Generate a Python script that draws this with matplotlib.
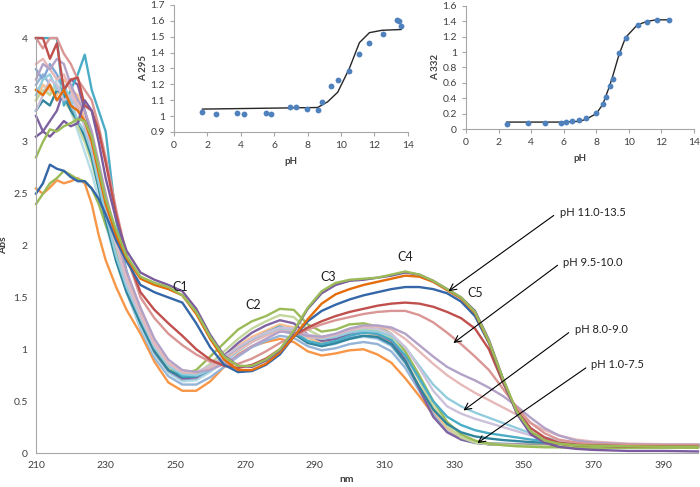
import matplotlib.pyplot as plt
from matplotlib.ticker import FormatStrFormatter, MultipleLocator

plt.rcParams["font.family"] = ["Lato", "DejaVu Sans"]

# wavelength grid (nm) shared by all spectra
wl = [210, 212, 214, 216, 218, 220, 222, 224, 226, 228, 230, 233, 236,
      240, 244, 248, 252, 256, 260, 264, 268, 272, 276, 280, 284, 288,
      292, 296, 300, 304, 308, 312, 316, 320, 324, 328, 332, 336, 340,
      344, 348, 352, 356, 360, 365, 370, 380, 390, 400]

# pH 1.0-7.5
low_green = [2.40, 2.50, 2.60, 2.65, 2.72, 2.68, 2.64, 2.62, 2.55, 2.40, 2.20, 1.95, 1.70,
             1.30, 1.02, 0.84, 0.76, 0.80, 0.93, 1.06, 1.19, 1.27, 1.32, 1.39, 1.38, 1.24,
             1.17, 1.19, 1.24, 1.25, 1.22, 1.15, 0.98, 0.75, 0.50, 0.30, 0.18, 0.12, 0.09,
             0.075, 0.065, 0.06, 0.055, 0.055, 0.05, 0.05, 0.05, 0.05, 0.05]
low_lightgreen = [3.40, 3.50, 3.45, 3.55, 3.40, 3.30, 3.15, 3.00, 2.80, 2.55, 2.30, 1.95, 1.65,
                  1.30, 1.02, 0.83, 0.74, 0.76, 0.86, 0.98, 1.10, 1.20, 1.27, 1.33, 1.31, 1.19,
                  1.12, 1.13, 1.18, 1.20, 1.18, 1.11, 0.94, 0.70, 0.45, 0.26, 0.15, 0.10, 0.085,
                  0.08, 0.075, 0.07, 0.07, 0.07, 0.07, 0.07, 0.07, 0.07, 0.07]
low_purple = [3.25, 3.10, 3.20, 3.30, 3.50, 3.60, 3.55, 3.30, 3.05, 2.75, 2.45, 2.00, 1.65,
              1.28, 0.98, 0.80, 0.72, 0.73, 0.82, 0.94, 1.06, 1.16, 1.23, 1.28, 1.25, 1.14,
              1.08, 1.10, 1.15, 1.17, 1.15, 1.08, 0.90, 0.62, 0.35, 0.20, 0.13, 0.10, 0.085,
              0.08, 0.08, 0.075, 0.075, 0.075, 0.075, 0.075, 0.075, 0.075, 0.075]
low_orange = [2.55, 2.50, 2.56, 2.63, 2.60, 2.62, 2.65, 2.60, 2.40, 2.10, 1.86, 1.60, 1.38,
              1.15, 0.88, 0.68, 0.60, 0.60, 0.69, 0.83, 0.95, 1.03, 1.07, 1.10, 1.07, 0.98,
              0.94, 0.96, 0.99, 1.00, 0.95, 0.87, 0.72, 0.55, 0.37, 0.22, 0.14, 0.10, 0.085,
              0.08, 0.078, 0.075, 0.075, 0.075, 0.075, 0.075, 0.075, 0.075, 0.075]
low_lightblue = [3.50, 3.55, 3.45, 3.60, 3.50, 3.30, 3.10, 2.90, 2.70, 2.45, 2.20, 1.85, 1.55,
                 1.22, 0.95, 0.77, 0.69, 0.70, 0.78, 0.89, 1.00, 1.09, 1.15, 1.20, 1.17, 1.08,
                 1.03, 1.05, 1.10, 1.12, 1.10, 1.03, 0.86, 0.63, 0.40, 0.23, 0.14, 0.10, 0.09,
                 0.085, 0.08, 0.08, 0.08, 0.08, 0.08, 0.08, 0.08, 0.08, 0.08]
low_paleblue = [3.55, 3.65, 3.55, 3.40, 3.45, 3.35, 3.20, 3.05, 2.85, 2.60, 2.30, 1.90, 1.55,
                1.20, 0.92, 0.74, 0.66, 0.66, 0.73, 0.83, 0.93, 1.02, 1.08, 1.13, 1.11, 1.03,
                0.99, 1.01, 1.05, 1.07, 1.05, 0.98, 0.82, 0.60, 0.38, 0.22, 0.13, 0.095, 0.085,
                0.08, 0.08, 0.08, 0.08, 0.08, 0.08, 0.08, 0.08, 0.08, 0.08]
low_peach = [3.40, 3.55, 3.50, 3.45, 3.60, 3.50, 3.45, 3.20, 2.95, 2.65, 2.35, 1.95, 1.60,
             1.27, 0.98, 0.80, 0.72, 0.73, 0.81, 0.92, 1.03, 1.12, 1.18, 1.24, 1.21, 1.11,
             1.06, 1.09, 1.14, 1.16, 1.14, 1.06, 0.88, 0.64, 0.41, 0.24, 0.15, 0.11, 0.09,
             0.085, 0.08, 0.08, 0.08, 0.08, 0.08, 0.08, 0.08, 0.08, 0.08]
low_blue = [3.70, 3.60, 3.75, 3.65, 3.50, 3.40, 3.35, 3.15, 2.95, 2.65, 2.35, 1.95, 1.60,
            1.25, 0.97, 0.79, 0.71, 0.72, 0.80, 0.91, 1.01, 1.09, 1.14, 1.18, 1.15, 1.07,
            1.03, 1.06, 1.11, 1.13, 1.11, 1.04, 0.87, 0.63, 0.40, 0.24, 0.15, 0.11, 0.095,
            0.09, 0.085, 0.085, 0.085, 0.085, 0.085, 0.085, 0.085, 0.085, 0.085]

# pH 8.0-9.0
mid_lilac = [3.30, 3.45, 3.60, 3.55, 3.40, 3.45, 3.30, 3.15, 2.95, 2.70, 2.40, 2.00, 1.65,
             1.32, 1.04, 0.86, 0.78, 0.78, 0.84, 0.93, 1.02, 1.10, 1.16, 1.21, 1.20, 1.14,
             1.12, 1.14, 1.18, 1.21, 1.20, 1.15, 1.02, 0.82, 0.60, 0.45, 0.38, 0.33, 0.29,
             0.25, 0.21, 0.17, 0.14, 0.12, 0.10, 0.09, 0.085, 0.08, 0.08]
mid_lightpink = [3.75, 3.80, 3.70, 3.60, 3.65, 3.50, 3.35, 3.20, 3.00, 2.75, 2.45, 2.05, 1.70,
                 1.35, 1.06, 0.87, 0.78, 0.77, 0.82, 0.90, 0.99, 1.07, 1.13, 1.18, 1.17, 1.12,
                 1.11, 1.14, 1.19, 1.22, 1.22, 1.19, 1.10, 0.98, 0.86, 0.75, 0.66, 0.58, 0.51,
                 0.44, 0.37, 0.29, 0.22, 0.17, 0.13, 0.11, 0.09, 0.085, 0.085]
mid_lavender = [3.60, 3.75, 3.70, 3.80, 3.75, 3.55, 3.40, 3.30, 3.10, 2.80, 2.50, 2.10, 1.75,
                1.40, 1.10, 0.90, 0.80, 0.78, 0.80, 0.86, 0.94, 1.03, 1.10, 1.17, 1.16, 1.13,
                1.12, 1.15, 1.20, 1.23, 1.23, 1.21, 1.15, 1.04, 0.93, 0.83, 0.76, 0.70, 0.63,
                0.55, 0.45, 0.34, 0.24, 0.17, 0.12, 0.10, 0.085, 0.08, 0.08]
mid_skyblue = [3.45, 3.60, 3.65, 3.50, 3.55, 3.40, 3.20, 3.10, 2.90, 2.60, 2.30, 1.90, 1.60,
               1.30, 1.02, 0.84, 0.76, 0.75, 0.80, 0.88, 0.98, 1.07, 1.14, 1.20, 1.18, 1.12,
               1.10, 1.12, 1.16, 1.18, 1.17, 1.13, 1.02, 0.84, 0.66, 0.53, 0.45, 0.39, 0.34,
               0.29, 0.24, 0.19, 0.15, 0.12, 0.10, 0.09, 0.085, 0.08, 0.08]
mid_teal = [4.00, 4.00, 4.00, 4.00, 3.35, 3.50, 3.65, 3.84, 3.50, 3.30, 3.10, 2.25, 1.75,
            1.35, 1.05, 0.85, 0.74, 0.74, 0.80, 0.90, 1.00, 1.09, 1.16, 1.22, 1.17, 1.08,
            1.05, 1.08, 1.13, 1.16, 1.15, 1.09, 0.94, 0.72, 0.50, 0.35, 0.27, 0.22, 0.19,
            0.17, 0.15, 0.13, 0.115, 0.10, 0.09, 0.085, 0.08, 0.08, 0.08]
mid_darkteal = [3.30, 3.40, 3.35, 3.50, 3.45, 3.30, 3.20, 3.05, 2.85, 2.55, 2.25, 1.85, 1.55,
                1.25, 0.98, 0.80, 0.73, 0.74, 0.81, 0.90, 1.00, 1.09, 1.16, 1.21, 1.15, 1.06,
                1.03, 1.06, 1.10, 1.13, 1.12, 1.05, 0.88, 0.64, 0.42, 0.28, 0.20, 0.16, 0.14,
                0.125, 0.115, 0.105, 0.10, 0.095, 0.09, 0.085, 0.08, 0.08, 0.08]

# pH 9.5-10.0
red = [4.00, 4.00, 3.80, 3.95, 3.50, 3.60, 3.62, 3.35, 3.30, 3.10, 2.80, 2.30, 1.90,
       1.55, 1.38, 1.25, 1.13, 1.00, 0.90, 0.84, 0.82, 0.85, 0.91, 1.00, 1.13, 1.21,
       1.27, 1.32, 1.36, 1.39, 1.42, 1.44, 1.45, 1.44, 1.41, 1.36, 1.30, 1.20, 1.00,
       0.68, 0.41, 0.24, 0.15, 0.10, 0.08, 0.07, 0.065, 0.06, 0.06]
pink = [4.00, 3.90, 4.00, 4.00, 3.85, 3.75, 3.60, 3.50, 3.40, 3.15, 2.85, 2.35, 1.90,
        1.50, 1.30, 1.15, 1.04, 0.95, 0.88, 0.85, 0.86, 0.91, 0.98, 1.06, 1.13, 1.19,
        1.24, 1.28, 1.31, 1.34, 1.36, 1.37, 1.37, 1.33, 1.26, 1.16, 1.05, 0.93, 0.80,
        0.62, 0.44, 0.29, 0.19, 0.13, 0.10, 0.085, 0.08, 0.075, 0.075]

# pH 11.0-13.5
high_blue = [2.50, 2.60, 2.78, 2.74, 2.72, 2.66, 2.62, 2.62, 2.55, 2.45, 2.30, 2.05, 1.85,
             1.62, 1.55, 1.50, 1.45, 1.25, 1.02, 0.85, 0.78, 0.79, 0.85, 0.95, 1.12, 1.27,
             1.37, 1.43, 1.48, 1.52, 1.55, 1.58, 1.60, 1.60, 1.58, 1.54, 1.46, 1.32, 1.06,
             0.70, 0.39, 0.20, 0.12, 0.09, 0.075, 0.07, 0.065, 0.06, 0.06]
high_orange = [3.50, 3.45, 3.55, 3.40, 3.50, 3.35, 3.30, 3.20, 3.00, 2.70, 2.40, 2.10, 1.88,
               1.68, 1.62, 1.58, 1.52, 1.34, 1.10, 0.90, 0.80, 0.80, 0.86, 0.97, 1.12, 1.29,
               1.44, 1.53, 1.58, 1.62, 1.65, 1.68, 1.71, 1.70, 1.65, 1.57, 1.49, 1.35, 1.07,
               0.71, 0.39, 0.20, 0.12, 0.09, 0.075, 0.07, 0.065, 0.06, 0.06]
high_purple = [3.05, 3.10, 3.05, 3.12, 3.20, 3.15, 3.18, 3.40, 3.30, 3.00, 2.65, 2.25, 1.95,
               1.74, 1.67, 1.62, 1.56, 1.39, 1.14, 0.94, 0.84, 0.83, 0.89, 0.99, 1.17, 1.39,
               1.54, 1.62, 1.66, 1.67, 1.69, 1.71, 1.74, 1.72, 1.66, 1.58, 1.50, 1.37, 1.09,
               0.72, 0.38, 0.18, 0.10, 0.06, 0.04, 0.03, 0.02, 0.02, 0.015]
high_green = [2.85, 3.00, 3.12, 3.10, 3.15, 3.18, 3.22, 3.20, 3.05, 2.75, 2.45, 2.15, 1.90,
              1.70, 1.64, 1.60, 1.52, 1.36, 1.12, 0.93, 0.84, 0.84, 0.90, 1.00, 1.18, 1.40,
              1.56, 1.64, 1.67, 1.68, 1.69, 1.72, 1.75, 1.72, 1.66, 1.58, 1.50, 1.36, 1.08,
              0.72, 0.40, 0.21, 0.12, 0.09, 0.075, 0.07, 0.065, 0.06, 0.06]

spectra = [
    (low_orange, "#F79646"), (low_paleblue, "#95B3D7"), (low_lightblue, "#B7DEE8"),
    (low_blue, "#7EA6D6"), (low_peach, "#FAC090"), (low_purple, "#8064A2"),
    (low_lightgreen, "#C3D69B"), (low_green, "#9BBB59"),
    (mid_darkteal, "#31859C"), (mid_teal, "#4BACC6"), (mid_skyblue, "#93CDDD"),
    (mid_lilac, "#CCC1DA"), (mid_lightpink, "#E6B9B8"), (mid_lavender, "#B3A2C7"),
    (pink, "#D99694"), (red, "#C0504D"),
    (high_blue, "#3466A8"), (high_orange, "#E46C0A"), (high_purple, "#7A5C9E"),
    (high_green, "#9BBB59"),
]

# inset 1: A 295 vs pH
ph_295 = [1.7, 2.5, 3.8, 4.2, 5.5, 5.8, 6.95, 7.3, 7.95, 8.6, 8.85, 9.4, 9.8,
          10.5, 11.1, 11.65, 12.5, 13.35, 13.45, 13.6]
a_295 = [1.028, 1.015, 1.02, 1.015, 1.02, 1.015, 1.06, 1.055, 1.045, 1.04, 1.087,
         1.19, 1.23, 1.285, 1.39, 1.46, 1.515, 1.602, 1.60, 1.567]
fit_ph_295 = [1.7, 8.6, 9.2, 9.8, 10.5, 11.1, 11.7, 12.45, 13.6]
fit_a_295 = [1.044, 1.054, 1.09, 1.15, 1.30, 1.462, 1.525, 1.54, 1.545]

# inset 2: A 332 vs pH
ph_332 = [2.5, 3.8, 4.85, 5.83, 6.15, 6.5, 6.97, 7.34, 7.96, 8.41, 8.6, 8.82, 9.01,
          9.4, 9.81, 10.54, 11.13, 11.7, 12.49]
a_332 = [0.07, 0.074, 0.074, 0.078, 0.09, 0.10, 0.118, 0.14, 0.213, 0.33, 0.42,
         0.562, 0.645, 0.983, 1.185, 1.35, 1.394, 1.42, 1.42]
fit_ph_332 = [2.5, 5.8, 7.0, 7.4, 8.0, 8.4, 8.8, 9.0, 9.4, 9.8, 10.5, 11.1, 11.7, 12.5]
fit_a_332 = [0.09, 0.09, 0.10, 0.13, 0.20, 0.32, 0.55, 0.68, 0.97, 1.19, 1.35, 1.40, 1.42, 1.42]

peak_labels = ["C1", "C2", "C3", "C4", "C5"]
peak_pos = [(251.4, 1.60), (272.4, 1.43), (294.0, 1.70), (316.0, 1.89), (336.1, 1.54)]

group_labels = ["pH 11.0-13.5", "pH 9.5-10.0", "pH 8.0-9.0", "pH 1.0-7.5"]
arrow_tail = [(358.6, 2.29), (359.7, 1.81), (362.9, 1.16), (367.8, 0.82)]
arrow_head = [(328.4, 1.56), (329.8, 1.06), (332.7, 0.41), (336.7, 0.096)]
label_pos = [(360.4, 2.32), (361.3, 1.84), (364.6, 1.19), (369.4, 0.85)]

axis_grey = "#A6A6A6"
text_col = "#404040"

fig = plt.figure(figsize=(7, 4.87), dpi=100)

ax = fig.add_axes([0.0514, 0.0698, 0.9457, 0.852])
for vals, col in spectra:
    ax.plot(wl, vals, color=col, lw=1.7, clip_on=False, solid_joinstyle="round")
ax.set_xlim(210, 400)
ax.set_ylim(0, 4)
ax.set_xticks(range(210, 400, 20))
ax.yaxis.set_major_locator(MultipleLocator(0.5))
ax.yaxis.set_major_formatter(FormatStrFormatter("%g"))
ax.tick_params(length=0, labelsize=7.5, colors=text_col, pad=6)
for s in ["top", "right"]:
    ax.spines[s].set_visible(False)
for s in ["left", "bottom"]:
    ax.spines[s].set_color(axis_grey)
ax.set_xlabel("nm", fontsize=7.5, fontweight="bold", color=text_col)
ax.set_ylabel("Abs", fontsize=7.5, fontweight="bold", color=text_col)
ax.xaxis.set_label_coords(0.47, -0.054)
ax.yaxis.set_label_coords(-0.042, 0.5)

for lab, (x, y) in zip(peak_labels, peak_pos):
    ax.text(x, y, lab, fontsize=9, ha="center", va="center", color="#202020")

for lab, tail, head, lp in zip(group_labels, arrow_tail, arrow_head, label_pos):
    ax.annotate("", xy=head, xytext=tail,
                arrowprops=dict(arrowstyle="->", color="black", lw=0.8,
                                mutation_scale=12, shrinkA=0, shrinkB=0))
    ax.text(lp[0], lp[1], lab, fontsize=8, ha="left", va="center", color="#202020")


def style_inset(a):
    a.set_facecolor("none")
    for s in ["top", "right"]:
        a.spines[s].set_visible(False)
    for s in ["left", "bottom"]:
        a.spines[s].set_color(axis_grey)
    a.tick_params(length=3, labelsize=7.5, colors=text_col, width=0.8)
    a.tick_params(axis="both", color=axis_grey)
    a.set_xlim(0, 14)
    a.set_xticks(range(0, 15, 2))
    a.yaxis.set_major_formatter(FormatStrFormatter("%g"))
    a.set_xlabel("pH", fontsize=7, fontweight="bold", color=text_col, labelpad=5)


ins1 = fig.add_axes([0.2486, 0.729, 0.334, 0.261])
ins1.plot(fit_ph_295, fit_a_295, color="#262626", lw=1.0)
ins1.plot(ph_295, a_295, "o", color="#4F81BD", ms=4.2, mec="none")
ins1.set_ylim(0.9, 1.7)
ins1.yaxis.set_major_locator(MultipleLocator(0.1))
style_inset(ins1)
ins1.set_ylabel("A 295", fontsize=7, fontweight="bold", color=text_col, labelpad=2)

ins2 = fig.add_axes([0.6657, 0.7351, 0.3257, 0.2526])
ins2.plot(fit_ph_332, fit_a_332, color="#262626", lw=1.0)
ins2.plot(ph_332, a_332, "o", color="#4F81BD", ms=4.2, mec="none")
ins2.set_ylim(0, 1.6)
ins2.yaxis.set_major_locator(MultipleLocator(0.2))
style_inset(ins2)
ins2.set_ylabel("A 332", fontsize=7, fontweight="bold", color=text_col, labelpad=2)

fig.savefig("out.png", dpi=100)
